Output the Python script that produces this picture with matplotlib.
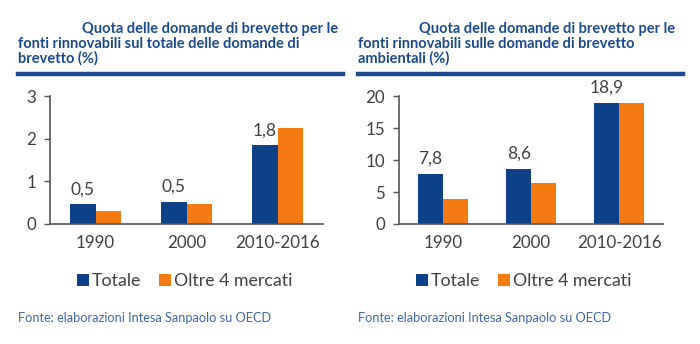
import numpy as np
import matplotlib.pyplot as plt
from matplotlib.lines import Line2D

plt.rcParams['font.family'] = ['Lato', 'DejaVu Sans']

categories = ['1990', '2000', '2010-2016']
series_names = ['Totale', 'Oltre 4 mercati']

# quota sul totale delle domande di brevetto (%)
totale_sx = [0.46, 0.52, 1.84]
oltre_sx = [0.30, 0.47, 2.26]
labels_sx = ['0,5', '0,5', '1,8']

# quota sulle domande di brevetto ambientali (%)
totale_dx = [7.8, 8.6, 18.9]
oltre_dx = [3.9, 6.4, 18.9]
labels_dx = ['7,8', '8,6', '18,9']

title_sx = ['Quota delle domande di brevetto per le',
            'fonti rinnovabili sul totale delle domande di',
            'brevetto (%)']
title_dx = ['Quota delle domande di brevetto per le',
            'fonti rinnovabili sulle domande di brevetto',
            'ambientali (%)']
fonte = 'Fonte: elaborazioni Intesa Sanpaolo su OECD'

BLUE = '#0F4188'
ORANGE = '#F47A12'
TITLE_C = '#1C4A8F'
TEXT_C = '#404040'

W, H = 700, 344
fig = plt.figure(figsize=(W / 100, H / 100), dpi=100)
fig.patch.set_facecolor('white')


def px(x0, y0, x1, y1):
    return [x0 / W, 1 - y1 / H, (x1 - x0) / W, (y1 - y0) / H]


def panel(rect, tot, olt, labels, ymax, step, title, x_right1, x_left, x_right, leg_x):
    ax = fig.add_axes(rect)
    x = np.arange(len(categories))
    bw = 0.28
    ax.bar(x - bw / 2, tot, bw, color=BLUE, label=series_names[0])
    ax.bar(x + bw / 2, olt, bw, color=ORANGE, label=series_names[1])
    for xi, v, lab in zip(x, tot, labels):
        ax.text(xi - bw / 2, v + ymax * 0.055, lab, ha='center', va='bottom',
                fontsize=12.5, color=TEXT_C)
    ax.set_xlim(-0.5, len(categories) - 0.5)
    ax.set_ylim(0, ymax)
    ax.set_yticks(np.arange(0, ymax + 0.01, step))
    ax.set_xticks(x)
    ax.set_xticklabels(categories)
    ax.tick_params(axis='x', length=0, pad=8, labelsize=12.2, colors=TEXT_C)
    ax.tick_params(axis='y', length=4, width=1, pad=6, labelsize=12.2,
                   colors=TEXT_C, color='#555555')
    for s in ['top', 'right']:
        ax.spines[s].set_visible(False)
    for s in ['left', 'bottom']:
        ax.spines[s].set_color('#555555')
        ax.spines[s].set_linewidth(1.2)
    ax.legend(loc='center', bbox_to_anchor=(leg_x / W, 1 - 281 / H),
              bbox_transform=fig.transFigure, ncol=2, frameon=False,
              fontsize=12.8, handlelength=0.65, handleheight=0.65,
              handletextpad=0.2, columnspacing=1.0, labelcolor=TEXT_C)

    # titolo su tre righe e filetto blu
    ys = [33, 48, 63]
    fig.text(x_right1 / W, 1 - ys[0] / H, title[0], ha='right', va='baseline',
             fontsize=10.5, fontweight='bold', color=TITLE_C)
    for t, y in zip(title[1:], ys[1:]):
        fig.text(x_left / W, 1 - y / H, t, ha='left', va='baseline',
                 fontsize=10.5, fontweight='bold', color=TITLE_C)
    fig.add_artist(Line2D([x_left / W, x_right / W], [1 - 74 / H, 1 - 74 / H],
                          transform=fig.transFigure, color=TITLE_C, lw=3.2))
    fig.text(x_left / W, 1 - 318 / H, fonte, ha='left', va='center',
             fontsize=9.2, color='#3F66A8')
    return ax


panel(px(50, 96, 323, 224), totale_sx, oltre_sx, labels_sx, 3, 1,
      title_sx, 338, 18, 343, 185)
panel(px(399, 96, 663, 224), totale_dx, oltre_dx, labels_dx, 20, 5,
      title_dx, 675, 358, 683, 524)

fig.savefig('out.png', dpi=100, facecolor='white')
